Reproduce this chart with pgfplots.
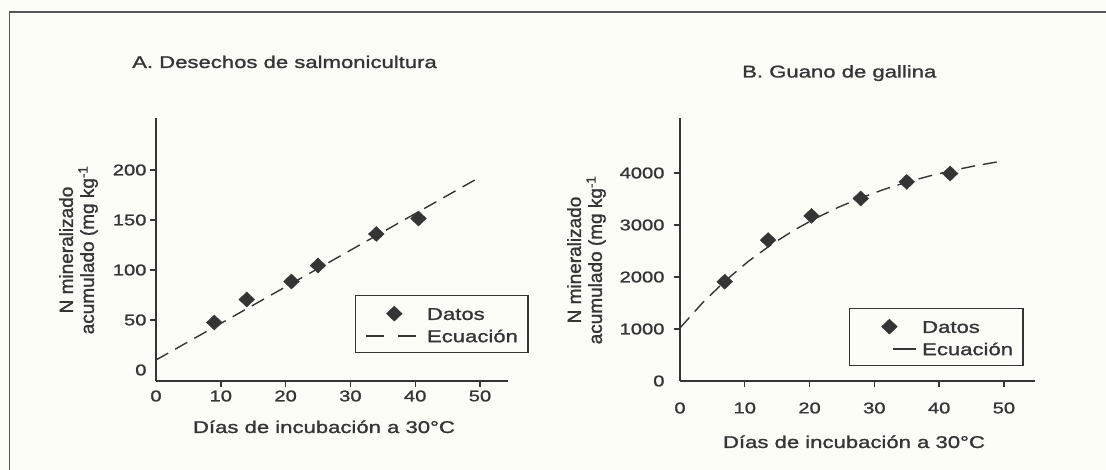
\documentclass[border=0pt]{standalone}
\usepackage{fontspec}
\setmainfont{Liberation Sans}[FakeStretch=1.3, FakeBold=1.3]
\newfontfamily\ylabfont{Liberation Sans}[FakeBold=1.3]
\usepackage{pgfplots}
\usepackage{pgfplotstable}
\pgfplotsset{compat=1.18}
\definecolor{ink}{HTML}{353535}
\definecolor{paper}{HTML}{FDFDF8}
\definecolor{framec}{HTML}{555555}

\pgfplotstableread{
x y
9.0 47.5
14.0 70.5
20.9 88.5
25.0 104.5
34.0 136
40.5 151.5
}\datosA
\pgfplotstableread{
x y
0 10
49.2 190
}\ecuA
\pgfplotstableread{
x y
6.9 1910
13.6 2710
20.3 3175
27.9 3510
35.0 3830
41.7 3990
}\datosB
\pgfplotstableread{
x y
0 1020
3.5 1506
7 1928
10.5 2296
14 2615
17.5 2893
21 3134
24.5 3344
28 3526
31.5 3685
35 3823
38.5 3942
42 4047
45.5 4137
49.1 4216
}\ecuB

\newcommand{\tickfont}{\fontsize{15.5}{18}\selectfont}
\newcommand{\labfont}{\fontsize{17}{20}\selectfont}
\newcommand{\yfont}{\ylabfont\fontsize{19}{21}\selectfont}

\pgfplotsset{
  panel/.style={
    scale only axis, height=263pt,
    axis x line*=bottom, axis y line*=left,
    axis line style={draw=ink, line width=1.6pt, -},
    tick style={draw=ink, line width=1.4pt},
    major tick length=6pt, tick align=outside,
    xmin=0, xtick={10,20,30,40,50},
    extra x ticks={0}, extra x tick style={tick style={draw=none}},
    extra y ticks={0}, extra y tick style={tick style={draw=none}},
    ticklabel style={font=\tickfont, text=ink},
    /pgf/number format/assume math mode=true,
    /pgf/number format/1000 sep={},
    clip=false,
    legend cell align=left,
    legend style={draw=ink, line width=1.3pt, fill=paper, font=\labfont, text=ink,
      anchor=north west, inner xsep=10pt, inner ysep=10.5pt, row sep=8.5pt,
      nodes={inner sep=0pt, text height=12.5pt, text depth=0pt},
      /tikz/every odd column/.append style={column sep=8pt}},
  },
  datos/.style={only marks, mark=diamond*, mark size=7.5pt,
    mark options={xscale=1.4, fill=ink, draw=ink, line width=0.4pt, solid}},
  ecu/.style={no marks, draw=ink, line width=1.4pt, dash pattern=on 14pt off 8pt},
  legA datos/.style={legend image code/.code={\draw[##1] plot coordinates {(28pt,0pt)}; \path (0pt,0pt) (52pt,0pt);}},
  legA ecu/.style={legend image code/.code={\draw[##1, dash pattern=on 18pt off 14pt] (0pt,0pt) -- (52pt,0pt);}},
  legB datos/.style={legend image code/.code={\draw[##1] plot coordinates {(29pt,0pt)}; \path (0pt,0pt) (56pt,0pt);}},
  legB ecu/.style={legend image code/.code={\draw[##1, solid] (33pt,0pt) -- (56pt,0pt); \path (0pt,0pt);}},
}

\begin{document}
\begin{tikzpicture}
\useasboundingbox (0pt,0pt) rectangle (1106pt,470pt);
\fill[paper] (0pt,0pt) rectangle (1106pt,470pt);
\draw[framec, line width=1.5pt] (9.5pt,0pt) -- (9.5pt,458pt) -- (1106pt,458pt);

% Panel A
\begin{axis}[panel, at={(156pt,89pt)}, anchor=south west,
  width=352pt, xmax=54.32, ymin=-11, ymax=252,
  ytick={50,100,150,200},
  legend style={at={(axis cs:30.7,75)}}]
\addplot[datos, legA datos] table {\datosA};
\addlegendentry{Datos}
\addplot[ecu, legA ecu] table {\ecuA};
\addlegendentry{Ecuación}
\end{axis}

% Panel B
\begin{axis}[panel, at={(680pt,89pt)}, anchor=south west,
  width=355pt, xmax=54.8, ymin=0, ymax=5058,
  ytick={1000,2000,3000,4000},
  xticklabel style={yshift=-12pt},
  yticklabel style={xshift=-6pt},
  legend style={at={(axis cs:26.1,1404)}, /tikz/every odd column/.append style={column sep=5pt}}]
\addplot[datos, legB datos] table {\datosB};
\addlegendentry{Datos}
\addplot[ecu, legB ecu] table {\ecuB};
\addlegendentry{Ecuación}
\end{axis}

% titles and axis labels
\node[anchor=base west, font=\labfont, text=ink, inner sep=0pt] at (132pt,402pt) {A. Desechos de salmonicultura};
\node[anchor=base west, font=\labfont, text=ink, inner sep=0pt] at (742pt,392.5pt) {B. Guano de gallina};
\node[anchor=base, font=\labfont, text=ink, inner sep=0pt] at (324pt,37pt) {Días de incubación a 30°C};
\node[anchor=base, font=\labfont, text=ink, inner sep=0pt] at (854pt,22pt) {Días de incubación a 30°C};
\node[rotate=90, align=center, font=\yfont, text=ink, inner sep=0pt] at (78.5pt,220pt) {N mineralizado\\acumulado (mg kg\textsuperscript{-1}};
\node[rotate=90, align=center, font=\yfont, text=ink, inner sep=0pt] at (586.5pt,210pt) {N mineralizado\\acumulado (mg kg\textsuperscript{-1}};
\end{tikzpicture}
\end{document}
